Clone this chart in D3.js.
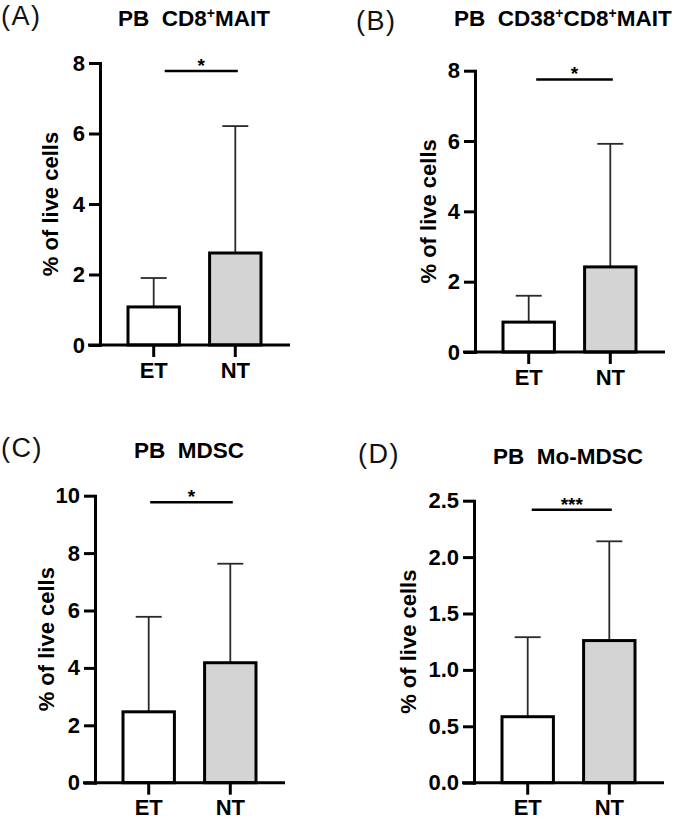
<!DOCTYPE html>
<html>
<head>
<meta charset="utf-8">
<script src="https://cdn.jsdelivr.net/npm/d3@7"></script>
<style>
  html, body { margin: 0; padding: 0; background: #fff; }
  svg { display: block; }
  text { font-family: "Liberation Sans", Arial, Helvetica, sans-serif; }
</style>
</head>
<body>
<svg id="chart" width="685" height="819"></svg>
<script>
// ---------------- DATA ----------------
const categories = ["ET", "NT"];
const panelLetters = ["(A)", "(B)", "(C)", "(D)"];
const yAxisTitle = "% of live cells";

// titles as [text, isSuperscript] parts
const titleA = [["PB  CD8", false], ["+", true], ["MAIT", false]];
const titleB = [["PB  CD38", false], ["+", true], ["CD8", false], ["+", true], ["MAIT", false]];
const titleC = [["PB  MDSC", false]];
const titleD = [["PB  Mo-MDSC", false]];

// mean and upper end of error bar (mean + SD)
const meanA = [1.08, 2.61];
const upperA = [1.90, 6.21];
const meanB = [0.85, 2.42];
const upperB = [1.60, 5.92];
const meanC = [2.47, 4.18];
const upperC = [5.78, 7.63];
const meanD = [0.585, 1.26];
const upperD = [1.29, 2.14];

const ticksA = [0, 2, 4, 6, 8];
const ticksB = [0, 2, 4, 6, 8];
const ticksC = [0, 2, 4, 6, 8, 10];
const ticksD = [0, 0.5, 1.0, 1.5, 2.0, 2.5];

// significance bracket level and label
const sigLevelA = 7.77, sigTextA = "*";
const sigLevelB = 7.75, sigTextB = "*";
const sigLevelC = 9.77, sigTextC = "*";
const sigLevelD = 2.42, sigTextD = "***";

const barFills = ["#ffffff", "#d4d4d4"];

// ---------------- LAYOUT ----------------
const panels = [
  { letter: panelLetters[0], title: titleA, mean: meanA, upper: upperA, ticks: ticksA, fmt: d3.format("d"),
    sig: sigLevelA, sigText: sigTextA,
    ax: 100, y0: 345, y1: 63, labOff: 42, sigStart: 11,
    letterX: 1, letterY: 25, titleX: 194, titleY: 26 },
  { letter: panelLetters[1], title: titleB, mean: meanB, upper: upperB, ticks: ticksB, fmt: d3.format("d"),
    sig: sigLevelB, sigText: sigTextB,
    ax: 475, y0: 352, y1: 70.7, labOff: 39, sigStart: 7.5,
    letterX: 356, letterY: 30, titleX: 454, titleY: 26, titleAnchor: "start" },
  { letter: panelLetters[2], title: titleC, mean: meanC, upper: upperC, ticks: ticksC, fmt: d3.format("d"),
    sig: sigLevelC, sigText: sigTextC,
    ax: 95, y0: 782.7, y1: 495.7, labOff: 41, sigStart: 1.5,
    letterX: 1, letterY: 457, titleX: 189, titleY: 458 },
  { letter: panelLetters[3], title: titleD, mean: meanD, upper: upperD, ticks: ticksD, fmt: d3.format(".1f"),
    sig: sigLevelD, sigText: sigTextD,
    ax: 474, y0: 782.7, y1: 500.7, labOff: 58, sigStart: 4,
    letterX: 358, letterY: 463, titleX: 568, titleY: 464 }
];

const svg = d3.select("#chart");
const FONT = 22;

function drawPanel(p) {
  const g = svg.append("g");
  const y = d3.scaleLinear().domain([0, d3.max(p.ticks)]).range([p.y0, p.y1]);
  const x = d3.scaleBand().domain(categories).range([p.ax + 28, p.ax + 161]).paddingInner(0.37).paddingOuter(0);
  const bw = x.bandwidth();

  // panel letter
  g.append("text").attr("x", p.letterX).attr("y", p.letterY)
    .attr("font-size", 27).attr("font-weight", "normal").attr("fill", "#111")
    .attr("letter-spacing", "1.5px")
    .text(p.letter);

  // title
  const t = g.append("text").attr("x", p.titleX).attr("y", p.titleY)
    .attr("font-size", 22.5).attr("font-weight", "bold").attr("fill", "#000")
    .attr("text-anchor", p.titleAnchor || "middle")
    .style("white-space", "pre");
  let shifted = false;
  p.title.forEach(([txt, sup]) => {
    const ts = t.append("tspan").text(txt);
    if (sup && !shifted) { ts.attr("dy", -8).attr("font-size", 14); shifted = true; }
    else if (!sup && shifted) { ts.attr("dy", 8); shifted = false; }
  });

  // error bars (drawn first, bars overlap their base)
  categories.forEach((c, i) => {
    const cx = x(c) + bw / 2;
    g.append("line").attr("x1", cx).attr("x2", cx)
      .attr("y1", y(p.mean[i])).attr("y2", y(p.upper[i]))
      .attr("stroke", "#2a2a2a").attr("stroke-width", 1.8);
    g.append("line").attr("x1", cx - 13).attr("x2", cx + 13)
      .attr("y1", y(p.upper[i])).attr("y2", y(p.upper[i]))
      .attr("stroke", "#2a2a2a").attr("stroke-width", 1.8);
  });

  // bars
  g.selectAll("rect.bar").data(categories).enter().append("rect")
    .attr("class", "bar")
    .attr("x", c => x(c))
    .attr("y", (c, i) => y(p.mean[i]))
    .attr("width", bw)
    .attr("height", (c, i) => p.y0 - y(p.mean[i]))
    .attr("fill", (c, i) => barFills[i])
    .attr("stroke", "#000").attr("stroke-width", 3);

  // y axis
  const yAxis = d3.axisLeft(y).tickValues(p.ticks).tickFormat(p.fmt)
    .tickSize(11).tickPadding(4).tickSizeOuter(0);
  const ya = g.append("g").attr("transform", `translate(${p.ax},0)`).call(yAxis);
  ya.select(".domain").attr("stroke", "#000").attr("stroke-width", 3).attr("stroke-linecap", "square");
  ya.selectAll(".tick line").attr("stroke", "#000").attr("stroke-width", 3);
  ya.selectAll(".tick text").attr("font-size", FONT).attr("font-weight", "bold").attr("fill", "#000")
    .attr("font-family", "'Liberation Sans', Arial, sans-serif");

  // x axis
  const xAxis = d3.axisBottom(x).tickSize(12).tickPadding(5).tickSizeOuter(0);
  const xa = g.append("g").attr("transform", `translate(0,${p.y0})`).call(xAxis);
  xa.select(".domain").remove();
  xa.append("line").attr("x1", p.ax - 12).attr("x2", p.ax + 190).attr("y1", 0).attr("y2", 0)
    .attr("stroke", "#000").attr("stroke-width", 3);
  xa.selectAll(".tick line").attr("stroke", "#000").attr("stroke-width", 3);
  xa.selectAll(".tick text").attr("font-size", FONT).attr("font-weight", "bold").attr("fill", "#000")
    .attr("font-family", "'Liberation Sans', Arial, sans-serif");

  // y axis title
  g.append("text")
    .attr("transform", `translate(${p.ax - p.labOff},${(p.y0 + p.y1) / 2}) rotate(-90)`)
    .attr("text-anchor", "middle")
    .attr("font-size", FONT).attr("font-weight", "bold").attr("fill", "#000")
    .text(yAxisTitle);

  // significance line
  const sx1 = x(categories[0]) + bw / 2 + p.sigStart;
  const sx2 = x(categories[1]) + bw / 2 + 2.5;
  g.append("line").attr("x1", sx1).attr("x2", sx2)
    .attr("y1", y(p.sig)).attr("y2", y(p.sig))
    .attr("stroke", "#000").attr("stroke-width", 2.5);
  g.append("text").attr("x", (sx1 + sx2) / 2).attr("y", y(p.sig) + 1)
    .attr("text-anchor", "middle").attr("font-size", 19).attr("font-weight", "bold").attr("fill", "#000")
    .text(p.sigText);
}

panels.forEach(drawPanel);
</script>
</body>
</html>
